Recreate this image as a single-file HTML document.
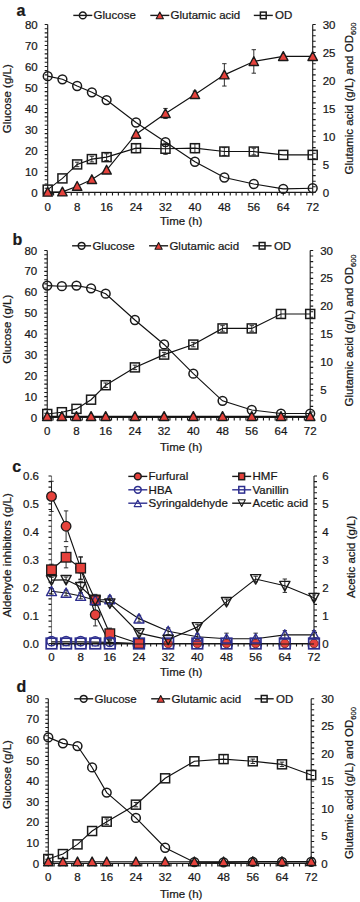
<!DOCTYPE html><html><head><meta charset="utf-8"><style>html,body{margin:0;padding:0;background:#fff;width:360px;height:902px;overflow:hidden}svg{display:block}text{font-family:"Liberation Sans",sans-serif;stroke:#111;stroke-width:0.22px}</style></head><body>
<svg width="360" height="902" viewBox="0 0 360 902" fill="#1a1a1a">
<rect width="360" height="902" fill="#fff"/>
<text x="16.6" y="15.9" text-anchor="start" font-size="16" font-weight="bold">a</text>
<path d="M47.7 24.5V192.4" stroke="#1a1a1a" stroke-width="1.1"/>
<g stroke="#1a1a1a" stroke-width="1.1" fill="none">
<path d="M312.7 24.5V192.4"/>
<path d="M47.7 192.4H312.7"/>
<path d="M44.7 192.4H47.7M44.7 188.2H47.7M44.7 184H47.7M44.7 179.81H47.7M44.7 175.61H47.7M44.7 171.41H47.7M44.7 167.22H47.7M44.7 163.02H47.7M44.7 158.82H47.7M44.7 154.62H47.7M44.7 150.43H47.7M44.7 146.23H47.7M44.7 142.03H47.7M44.7 137.83H47.7M44.7 133.63H47.7M44.7 129.44H47.7M44.7 125.24H47.7M44.7 121.04H47.7M44.7 116.84H47.7M44.7 112.65H47.7M44.7 108.45H47.7M44.7 104.25H47.7M44.7 100.06H47.7M44.7 95.86H47.7M44.7 91.66H47.7M44.7 87.46H47.7M44.7 83.26H47.7M44.7 79.07H47.7M44.7 74.87H47.7M44.7 70.67H47.7M44.7 66.48H47.7M44.7 62.28H47.7M44.7 58.08H47.7M44.7 53.88H47.7M44.7 49.69H47.7M44.7 45.49H47.7M44.7 41.29H47.7M44.7 37.09H47.7M44.7 32.9H47.7M44.7 28.7H47.7M44.7 24.5H47.7M312.7 192.4H315.7M312.7 186.8H315.7M312.7 181.21H315.7M312.7 175.61H315.7M312.7 170.01H315.7M312.7 164.42H315.7M312.7 158.82H315.7M312.7 153.22H315.7M312.7 147.63H315.7M312.7 142.03H315.7M312.7 136.43H315.7M312.7 130.84H315.7M312.7 125.24H315.7M312.7 119.64H315.7M312.7 114.05H315.7M312.7 108.45H315.7M312.7 102.85H315.7M312.7 97.26H315.7M312.7 91.66H315.7M312.7 86.06H315.7M312.7 80.47H315.7M312.7 74.87H315.7M312.7 69.27H315.7M312.7 63.68H315.7M312.7 58.08H315.7M312.7 52.48H315.7M312.7 46.89H315.7M312.7 41.29H315.7M312.7 35.69H315.7M312.7 30.1H315.7M312.7 24.5H315.7M47.7 192.4V195.4M53.59 192.4V195.4M59.48 192.4V195.4M65.37 192.4V195.4M71.26 192.4V195.4M77.14 192.4V195.4M83.03 192.4V195.4M88.92 192.4V195.4M94.81 192.4V195.4M100.7 192.4V195.4M106.59 192.4V195.4M112.48 192.4V195.4M118.37 192.4V195.4M124.26 192.4V195.4M130.14 192.4V195.4M136.03 192.4V195.4M141.92 192.4V195.4M147.81 192.4V195.4M153.7 192.4V195.4M159.59 192.4V195.4M165.48 192.4V195.4M171.37 192.4V195.4M177.26 192.4V195.4M183.14 192.4V195.4M189.03 192.4V195.4M194.92 192.4V195.4M200.81 192.4V195.4M206.7 192.4V195.4M212.59 192.4V195.4M218.48 192.4V195.4M224.37 192.4V195.4M230.26 192.4V195.4M236.14 192.4V195.4M242.03 192.4V195.4M247.92 192.4V195.4M253.81 192.4V195.4M259.7 192.4V195.4M265.59 192.4V195.4M271.48 192.4V195.4M277.37 192.4V195.4M283.26 192.4V195.4M289.14 192.4V195.4M295.03 192.4V195.4M300.92 192.4V195.4M306.81 192.4V195.4M312.7 192.4V195.4"/>
</g>
<g fill="#1a1a1a">
<text x="37.7" y="196.52" text-anchor="end" font-size="11.5" font-weight="normal">0</text>
<text x="37.7" y="175.53" text-anchor="end" font-size="11.5" font-weight="normal">10</text>
<text x="37.7" y="154.54" text-anchor="end" font-size="11.5" font-weight="normal">20</text>
<text x="37.7" y="133.55" text-anchor="end" font-size="11.5" font-weight="normal">30</text>
<text x="37.7" y="112.57" text-anchor="end" font-size="11.5" font-weight="normal">40</text>
<text x="37.7" y="91.58" text-anchor="end" font-size="11.5" font-weight="normal">50</text>
<text x="37.7" y="70.59" text-anchor="end" font-size="11.5" font-weight="normal">60</text>
<text x="37.7" y="49.6" text-anchor="end" font-size="11.5" font-weight="normal">70</text>
<text x="37.7" y="28.62" text-anchor="end" font-size="11.5" font-weight="normal">80</text>
<text x="322.7" y="196.52" text-anchor="start" font-size="11.5" font-weight="normal">0</text>
<text x="322.7" y="168.53" text-anchor="start" font-size="11.5" font-weight="normal">5</text>
<text x="322.7" y="140.55" text-anchor="start" font-size="11.5" font-weight="normal">10</text>
<text x="322.7" y="112.57" text-anchor="start" font-size="11.5" font-weight="normal">15</text>
<text x="322.7" y="84.58" text-anchor="start" font-size="11.5" font-weight="normal">20</text>
<text x="322.7" y="56.6" text-anchor="start" font-size="11.5" font-weight="normal">25</text>
<text x="322.7" y="28.62" text-anchor="start" font-size="11.5" font-weight="normal">30</text>
<text x="47.7" y="210.52" text-anchor="middle" font-size="11.5" font-weight="normal">0</text>
<text x="77.14" y="210.52" text-anchor="middle" font-size="11.5" font-weight="normal">8</text>
<text x="106.59" y="210.52" text-anchor="middle" font-size="11.5" font-weight="normal">16</text>
<text x="136.03" y="210.52" text-anchor="middle" font-size="11.5" font-weight="normal">24</text>
<text x="165.48" y="210.52" text-anchor="middle" font-size="11.5" font-weight="normal">32</text>
<text x="194.92" y="210.52" text-anchor="middle" font-size="11.5" font-weight="normal">40</text>
<text x="224.37" y="210.52" text-anchor="middle" font-size="11.5" font-weight="normal">48</text>
<text x="253.81" y="210.52" text-anchor="middle" font-size="11.5" font-weight="normal">56</text>
<text x="283.26" y="210.52" text-anchor="middle" font-size="11.5" font-weight="normal">64</text>
<text x="312.7" y="210.52" text-anchor="middle" font-size="11.5" font-weight="normal">72</text>
</g>
<path d="M73.3 15.4H92.3" stroke="#1a1a1a" stroke-width="1.4"/>
<circle cx="82.8" cy="15.4" r="3.4" fill="none" stroke="#1a1a1a" stroke-width="1.5"/>
<text x="93.6" y="19.24" text-anchor="start" font-size="11.5" font-weight="normal">Glucose</text>
<path d="M150.3 15.4H169.3" stroke="#1a1a1a" stroke-width="1.4"/>
<polygon points="159.8,12.1 163.4,18.8 156.2,18.8" fill="#e6423c" stroke="#1a1a1a" stroke-width="1.1" stroke-linejoin="round"/>
<text x="170.6" y="19.24" text-anchor="start" font-size="11.5" font-weight="normal">Glutamic acid</text>
<path d="M253.8 15.4H272.8" stroke="#1a1a1a" stroke-width="1.4"/>
<rect x="260.4" y="12.1" width="5.8" height="6.6" fill="none" stroke="#1a1a1a" stroke-width="1.5"/>
<text x="275.1" y="19.24" text-anchor="start" font-size="11.5" font-weight="normal">OD</text>
<text transform="translate(11.2 98.8) rotate(-90)" text-anchor="middle" font-size="11.5">Glucose (g/L)</text>
<text transform="translate(353.3 98.4) rotate(-90)" text-anchor="middle" font-size="11.5">Glutamic acid (g/L) and OD<tspan font-size="7.6" dy="2.6">600</tspan></text>
<text x="181.2" y="224.9" text-anchor="middle" font-size="11.5" font-weight="normal">Time (h)</text>
<polyline points="47.7,76.13 62.42,79.28 77.14,85.99 91.87,92.29 106.59,100.06 136.03,122.51 165.48,142.03 194.92,161.76 224.37,177.5 253.81,184 283.26,188.83 312.7,188.2" fill="none" stroke="#111" stroke-width="1.15"/>
<polyline points="47.7,189.6 62.42,178.41 77.14,164.42 91.87,159.1 106.59,157.14 136.03,148.19 165.48,148.75 194.92,148.19 224.37,151.54 253.81,151.54 283.26,154.9 312.7,154.9" fill="none" stroke="#111" stroke-width="1.15"/>
<polyline points="47.7,192.12 62.42,191.84 77.14,186.24 91.87,179.53 106.59,170.01 136.03,134.19 165.48,113.49 194.92,94.46 224.37,74.87 253.81,61.44 283.26,56.4 312.7,56.4" fill="none" stroke="#111" stroke-width="1.15"/>
<path d="M77.14 162.18V166.66 M74.94 162.18H79.34 M74.94 166.66H79.34" stroke="#1a1a1a" stroke-width="0.9" fill="none"/>
<path d="M91.87 156.3V161.9 M89.67 156.3H94.07 M89.67 161.9H94.07" stroke="#1a1a1a" stroke-width="0.9" fill="none"/>
<path d="M106.59 153.78V160.5 M104.39 153.78H108.79 M104.39 160.5H108.79" stroke="#1a1a1a" stroke-width="0.9" fill="none"/>
<path d="M136.03 143.71V152.66 M133.83 143.71H138.23 M133.83 152.66H138.23" stroke="#1a1a1a" stroke-width="0.9" fill="none"/>
<path d="M165.48 143.15V154.34 M163.28 143.15H167.68 M163.28 154.34H167.68" stroke="#1a1a1a" stroke-width="0.9" fill="none"/>
<path d="M165.48 108.45V118.52 M163.28 108.45H167.68 M163.28 118.52H167.68" stroke="#1a1a1a" stroke-width="0.9" fill="none"/>
<path d="M194.92 143.71V152.66 M192.72 143.71H197.12 M192.72 152.66H197.12" stroke="#1a1a1a" stroke-width="0.9" fill="none"/>
<path d="M194.92 91.1V97.82 M192.72 91.1H197.12 M192.72 97.82H197.12" stroke="#1a1a1a" stroke-width="0.9" fill="none"/>
<path d="M224.37 147.63V155.46 M222.17 147.63H226.57 M222.17 155.46H226.57" stroke="#1a1a1a" stroke-width="0.9" fill="none"/>
<path d="M224.37 63.68V86.06 M222.17 63.68H226.57 M222.17 86.06H226.57" stroke="#1a1a1a" stroke-width="0.9" fill="none"/>
<path d="M253.81 148.19V154.9 M251.61 148.19H256.01 M251.61 154.9H256.01" stroke="#1a1a1a" stroke-width="0.9" fill="none"/>
<path d="M253.81 49.69V73.19 M251.61 49.69H256.01 M251.61 73.19H256.01" stroke="#1a1a1a" stroke-width="0.9" fill="none"/>
<circle cx="47.7" cy="76.13" r="4.4" fill="none" stroke="#1a1a1a" stroke-width="1.5"/>
<circle cx="62.42" cy="79.28" r="4.4" fill="none" stroke="#1a1a1a" stroke-width="1.5"/>
<circle cx="77.14" cy="85.99" r="4.4" fill="none" stroke="#1a1a1a" stroke-width="1.5"/>
<circle cx="91.87" cy="92.29" r="4.4" fill="none" stroke="#1a1a1a" stroke-width="1.5"/>
<circle cx="106.59" cy="100.06" r="4.4" fill="none" stroke="#1a1a1a" stroke-width="1.5"/>
<circle cx="136.03" cy="122.51" r="4.4" fill="none" stroke="#1a1a1a" stroke-width="1.5"/>
<circle cx="165.48" cy="142.03" r="4.4" fill="none" stroke="#1a1a1a" stroke-width="1.5"/>
<circle cx="194.92" cy="161.76" r="4.4" fill="none" stroke="#1a1a1a" stroke-width="1.5"/>
<circle cx="224.37" cy="177.5" r="4.4" fill="none" stroke="#1a1a1a" stroke-width="1.5"/>
<circle cx="253.81" cy="184" r="4.4" fill="none" stroke="#1a1a1a" stroke-width="1.5"/>
<circle cx="283.26" cy="188.83" r="4.4" fill="none" stroke="#1a1a1a" stroke-width="1.5"/>
<circle cx="312.7" cy="188.2" r="4.4" fill="none" stroke="#1a1a1a" stroke-width="1.5"/>
<rect x="43.2" y="185.1" width="9" height="9" fill="none" stroke="#1a1a1a" stroke-width="1.5"/>
<rect x="57.92" y="173.91" width="9" height="9" fill="none" stroke="#1a1a1a" stroke-width="1.5"/>
<rect x="72.64" y="159.92" width="9" height="9" fill="none" stroke="#1a1a1a" stroke-width="1.5"/>
<rect x="87.37" y="154.6" width="9" height="9" fill="none" stroke="#1a1a1a" stroke-width="1.5"/>
<rect x="102.09" y="152.64" width="9" height="9" fill="none" stroke="#1a1a1a" stroke-width="1.5"/>
<rect x="131.53" y="143.69" width="9" height="9" fill="none" stroke="#1a1a1a" stroke-width="1.5"/>
<rect x="160.98" y="144.25" width="9" height="9" fill="none" stroke="#1a1a1a" stroke-width="1.5"/>
<rect x="190.42" y="143.69" width="9" height="9" fill="none" stroke="#1a1a1a" stroke-width="1.5"/>
<rect x="219.87" y="147.04" width="9" height="9" fill="none" stroke="#1a1a1a" stroke-width="1.5"/>
<rect x="249.31" y="147.04" width="9" height="9" fill="none" stroke="#1a1a1a" stroke-width="1.5"/>
<rect x="278.76" y="150.4" width="9" height="9" fill="none" stroke="#1a1a1a" stroke-width="1.5"/>
<rect x="308.2" y="150.4" width="9" height="9" fill="none" stroke="#1a1a1a" stroke-width="1.5"/>
<polygon points="47.7,187.42 52.4,196.16 43,196.16" fill="#e6423c" stroke="#1a1a1a" stroke-width="1.4" stroke-linejoin="round"/>
<polygon points="62.42,187.14 67.12,195.88 57.72,195.88" fill="#e6423c" stroke="#1a1a1a" stroke-width="1.4" stroke-linejoin="round"/>
<polygon points="77.14,181.54 81.84,190.29 72.44,190.29" fill="#e6423c" stroke="#1a1a1a" stroke-width="1.4" stroke-linejoin="round"/>
<polygon points="91.87,174.83 96.57,183.57 87.17,183.57" fill="#e6423c" stroke="#1a1a1a" stroke-width="1.4" stroke-linejoin="round"/>
<polygon points="106.59,165.31 111.29,174.06 101.89,174.06" fill="#e6423c" stroke="#1a1a1a" stroke-width="1.4" stroke-linejoin="round"/>
<polygon points="136.03,129.49 140.73,138.24 131.33,138.24" fill="#e6423c" stroke="#1a1a1a" stroke-width="1.4" stroke-linejoin="round"/>
<polygon points="165.48,108.79 170.18,117.53 160.78,117.53" fill="#e6423c" stroke="#1a1a1a" stroke-width="1.4" stroke-linejoin="round"/>
<polygon points="194.92,89.76 199.62,98.5 190.22,98.5" fill="#e6423c" stroke="#1a1a1a" stroke-width="1.4" stroke-linejoin="round"/>
<polygon points="224.37,70.17 229.07,78.91 219.67,78.91" fill="#e6423c" stroke="#1a1a1a" stroke-width="1.4" stroke-linejoin="round"/>
<polygon points="253.81,56.74 258.51,65.48 249.11,65.48" fill="#e6423c" stroke="#1a1a1a" stroke-width="1.4" stroke-linejoin="round"/>
<polygon points="283.26,51.7 287.96,60.44 278.56,60.44" fill="#e6423c" stroke="#1a1a1a" stroke-width="1.4" stroke-linejoin="round"/>
<polygon points="312.7,51.7 317.4,60.44 308,60.44" fill="#e6423c" stroke="#1a1a1a" stroke-width="1.4" stroke-linejoin="round"/>
<text x="12.6" y="245" text-anchor="start" font-size="16" font-weight="bold">b</text>
<path d="M47.25 250.5V417.5" stroke="#1a1a1a" stroke-width="1.1"/>
<g stroke="#1a1a1a" stroke-width="1.1" fill="none">
<path d="M310.2 250.5V417.5"/>
<path d="M47.25 417.5H310.2"/>
<path d="M44.25 417.5H47.25M44.25 413.32H47.25M44.25 409.15H47.25M44.25 404.98H47.25M44.25 400.8H47.25M44.25 396.62H47.25M44.25 392.45H47.25M44.25 388.27H47.25M44.25 384.1H47.25M44.25 379.93H47.25M44.25 375.75H47.25M44.25 371.57H47.25M44.25 367.4H47.25M44.25 363.23H47.25M44.25 359.05H47.25M44.25 354.88H47.25M44.25 350.7H47.25M44.25 346.52H47.25M44.25 342.35H47.25M44.25 338.18H47.25M44.25 334H47.25M44.25 329.82H47.25M44.25 325.65H47.25M44.25 321.48H47.25M44.25 317.3H47.25M44.25 313.12H47.25M44.25 308.95H47.25M44.25 304.77H47.25M44.25 300.6H47.25M44.25 296.43H47.25M44.25 292.25H47.25M44.25 288.07H47.25M44.25 283.9H47.25M44.25 279.73H47.25M44.25 275.55H47.25M44.25 271.38H47.25M44.25 267.2H47.25M44.25 263.02H47.25M44.25 258.85H47.25M44.25 254.68H47.25M44.25 250.5H47.25M310.2 417.5H313.2M310.2 411.93H313.2M310.2 406.37H313.2M310.2 400.8H313.2M310.2 395.23H313.2M310.2 389.67H313.2M310.2 384.1H313.2M310.2 378.53H313.2M310.2 372.97H313.2M310.2 367.4H313.2M310.2 361.83H313.2M310.2 356.27H313.2M310.2 350.7H313.2M310.2 345.13H313.2M310.2 339.57H313.2M310.2 334H313.2M310.2 328.43H313.2M310.2 322.87H313.2M310.2 317.3H313.2M310.2 311.73H313.2M310.2 306.17H313.2M310.2 300.6H313.2M310.2 295.03H313.2M310.2 289.47H313.2M310.2 283.9H313.2M310.2 278.33H313.2M310.2 272.77H313.2M310.2 267.2H313.2M310.2 261.63H313.2M310.2 256.07H313.2M310.2 250.5H313.2M47.25 417.5V420.5M53.09 417.5V420.5M58.94 417.5V420.5M64.78 417.5V420.5M70.62 417.5V420.5M76.47 417.5V420.5M82.31 417.5V420.5M88.15 417.5V420.5M94 417.5V420.5M99.84 417.5V420.5M105.68 417.5V420.5M111.53 417.5V420.5M117.37 417.5V420.5M123.21 417.5V420.5M129.06 417.5V420.5M134.9 417.5V420.5M140.74 417.5V420.5M146.59 417.5V420.5M152.43 417.5V420.5M158.27 417.5V420.5M164.12 417.5V420.5M169.96 417.5V420.5M175.8 417.5V420.5M181.65 417.5V420.5M187.49 417.5V420.5M193.33 417.5V420.5M199.18 417.5V420.5M205.02 417.5V420.5M210.86 417.5V420.5M216.71 417.5V420.5M222.55 417.5V420.5M228.39 417.5V420.5M234.24 417.5V420.5M240.08 417.5V420.5M245.92 417.5V420.5M251.77 417.5V420.5M257.61 417.5V420.5M263.45 417.5V420.5M269.3 417.5V420.5M275.14 417.5V420.5M280.98 417.5V420.5M286.83 417.5V420.5M292.67 417.5V420.5M298.51 417.5V420.5M304.36 417.5V420.5M310.2 417.5V420.5"/>
</g>
<g fill="#1a1a1a">
<text x="37.25" y="421.62" text-anchor="end" font-size="11.5" font-weight="normal">0</text>
<text x="37.25" y="400.74" text-anchor="end" font-size="11.5" font-weight="normal">10</text>
<text x="37.25" y="379.87" text-anchor="end" font-size="11.5" font-weight="normal">20</text>
<text x="37.25" y="358.99" text-anchor="end" font-size="11.5" font-weight="normal">30</text>
<text x="37.25" y="338.12" text-anchor="end" font-size="11.5" font-weight="normal">40</text>
<text x="37.25" y="317.24" text-anchor="end" font-size="11.5" font-weight="normal">50</text>
<text x="37.25" y="296.37" text-anchor="end" font-size="11.5" font-weight="normal">60</text>
<text x="37.25" y="275.49" text-anchor="end" font-size="11.5" font-weight="normal">70</text>
<text x="37.25" y="254.62" text-anchor="end" font-size="11.5" font-weight="normal">80</text>
<text x="320.2" y="421.62" text-anchor="start" font-size="11.5" font-weight="normal">0</text>
<text x="320.2" y="393.78" text-anchor="start" font-size="11.5" font-weight="normal">5</text>
<text x="320.2" y="365.95" text-anchor="start" font-size="11.5" font-weight="normal">10</text>
<text x="320.2" y="338.12" text-anchor="start" font-size="11.5" font-weight="normal">15</text>
<text x="320.2" y="310.28" text-anchor="start" font-size="11.5" font-weight="normal">20</text>
<text x="320.2" y="282.45" text-anchor="start" font-size="11.5" font-weight="normal">25</text>
<text x="320.2" y="254.62" text-anchor="start" font-size="11.5" font-weight="normal">30</text>
<text x="47.25" y="435.12" text-anchor="middle" font-size="11.5" font-weight="normal">0</text>
<text x="76.47" y="435.12" text-anchor="middle" font-size="11.5" font-weight="normal">8</text>
<text x="105.68" y="435.12" text-anchor="middle" font-size="11.5" font-weight="normal">16</text>
<text x="134.9" y="435.12" text-anchor="middle" font-size="11.5" font-weight="normal">24</text>
<text x="164.12" y="435.12" text-anchor="middle" font-size="11.5" font-weight="normal">32</text>
<text x="193.33" y="435.12" text-anchor="middle" font-size="11.5" font-weight="normal">40</text>
<text x="222.55" y="435.12" text-anchor="middle" font-size="11.5" font-weight="normal">48</text>
<text x="251.77" y="435.12" text-anchor="middle" font-size="11.5" font-weight="normal">56</text>
<text x="280.98" y="435.12" text-anchor="middle" font-size="11.5" font-weight="normal">64</text>
<text x="310.2" y="435.12" text-anchor="middle" font-size="11.5" font-weight="normal">72</text>
</g>
<path d="M72.1 245.8H91.1" stroke="#1a1a1a" stroke-width="1.4"/>
<circle cx="81.6" cy="245.8" r="3.4" fill="none" stroke="#1a1a1a" stroke-width="1.5"/>
<text x="92.4" y="249.64" text-anchor="start" font-size="11.5" font-weight="normal">Glucose</text>
<path d="M149.1 245.8H168.1" stroke="#1a1a1a" stroke-width="1.4"/>
<polygon points="158.6,242.5 162.2,249.2 155,249.2" fill="#e6423c" stroke="#1a1a1a" stroke-width="1.1" stroke-linejoin="round"/>
<text x="169.4" y="249.64" text-anchor="start" font-size="11.5" font-weight="normal">Glutamic acid</text>
<path d="M252.6 245.8H271.6" stroke="#1a1a1a" stroke-width="1.4"/>
<rect x="259.2" y="242.5" width="5.8" height="6.6" fill="none" stroke="#1a1a1a" stroke-width="1.5"/>
<text x="273.9" y="249.64" text-anchor="start" font-size="11.5" font-weight="normal">OD</text>
<text transform="translate(11.2 329.3) rotate(-90)" text-anchor="middle" font-size="11.5">Glucose (g/L)</text>
<text transform="translate(353.3 330.4) rotate(-90)" text-anchor="middle" font-size="11.5">Glutamic acid (g/L) and OD<tspan font-size="7.6" dy="2.6">600</tspan></text>
<text x="181.2" y="451.2" text-anchor="middle" font-size="11.5" font-weight="normal">Time (h)</text>
<polyline points="47.25,285.57 61.86,286.2 76.47,285.57 91.07,288.28 105.68,293.71 134.9,320.01 164.12,344.44 193.33,373.66 222.55,400.8 251.77,409.99 280.98,413.53 310.2,413.53" fill="none" stroke="#111" stroke-width="1.15"/>
<polyline points="47.25,413.99 61.86,412.21 76.47,408.87 91.07,399.69 105.68,385.21 134.9,367.4 164.12,354.6 193.33,344.58 222.55,328.43 251.77,328.43 280.98,313.96 310.2,313.96" fill="none" stroke="#111" stroke-width="1.15"/>
<polyline points="47.25,416.39 61.86,416.39 76.47,416.39 91.07,416.39 105.68,416.39 134.9,416.39 164.12,416.39 193.33,416.39 222.55,416.39 251.77,416.39 280.98,416.39 310.2,416.39" fill="none" stroke="#111" stroke-width="1.15"/>
<path d="M105.68 382.99V387.44 M103.48 382.99H107.88 M103.48 387.44H107.88" stroke="#1a1a1a" stroke-width="0.9" fill="none"/>
<path d="M134.9 365.17V369.63 M132.7 365.17H137.1 M132.7 369.63H137.1" stroke="#1a1a1a" stroke-width="0.9" fill="none"/>
<path d="M164.12 352.37V356.82 M161.92 352.37H166.32 M161.92 356.82H166.32" stroke="#1a1a1a" stroke-width="0.9" fill="none"/>
<path d="M193.33 342.35V346.8 M191.13 342.35H195.53 M191.13 346.8H195.53" stroke="#1a1a1a" stroke-width="0.9" fill="none"/>
<path d="M222.55 325.65V331.22 M220.35 325.65H224.75 M220.35 331.22H224.75" stroke="#1a1a1a" stroke-width="0.9" fill="none"/>
<path d="M251.77 325.65V331.22 M249.57 325.65H253.97 M249.57 331.22H253.97" stroke="#1a1a1a" stroke-width="0.9" fill="none"/>
<path d="M280.98 309.51V318.41 M278.78 309.51H283.18 M278.78 318.41H283.18" stroke="#1a1a1a" stroke-width="0.9" fill="none"/>
<path d="M310.2 309.51V318.41 M308 309.51H312.4 M308 318.41H312.4" stroke="#1a1a1a" stroke-width="0.9" fill="none"/>
<circle cx="47.25" cy="285.57" r="4.4" fill="none" stroke="#1a1a1a" stroke-width="1.5"/>
<circle cx="61.86" cy="286.2" r="4.4" fill="none" stroke="#1a1a1a" stroke-width="1.5"/>
<circle cx="76.47" cy="285.57" r="4.4" fill="none" stroke="#1a1a1a" stroke-width="1.5"/>
<circle cx="91.07" cy="288.28" r="4.4" fill="none" stroke="#1a1a1a" stroke-width="1.5"/>
<circle cx="105.68" cy="293.71" r="4.4" fill="none" stroke="#1a1a1a" stroke-width="1.5"/>
<circle cx="134.9" cy="320.01" r="4.4" fill="none" stroke="#1a1a1a" stroke-width="1.5"/>
<circle cx="164.12" cy="344.44" r="4.4" fill="none" stroke="#1a1a1a" stroke-width="1.5"/>
<circle cx="193.33" cy="373.66" r="4.4" fill="none" stroke="#1a1a1a" stroke-width="1.5"/>
<circle cx="222.55" cy="400.8" r="4.4" fill="none" stroke="#1a1a1a" stroke-width="1.5"/>
<circle cx="251.77" cy="409.99" r="4.4" fill="none" stroke="#1a1a1a" stroke-width="1.5"/>
<circle cx="280.98" cy="413.53" r="4.4" fill="none" stroke="#1a1a1a" stroke-width="1.5"/>
<circle cx="310.2" cy="413.53" r="4.4" fill="none" stroke="#1a1a1a" stroke-width="1.5"/>
<rect x="42.75" y="409.49" width="9" height="9" fill="none" stroke="#1a1a1a" stroke-width="1.5"/>
<rect x="57.36" y="407.71" width="9" height="9" fill="none" stroke="#1a1a1a" stroke-width="1.5"/>
<rect x="71.97" y="404.37" width="9" height="9" fill="none" stroke="#1a1a1a" stroke-width="1.5"/>
<rect x="86.57" y="395.19" width="9" height="9" fill="none" stroke="#1a1a1a" stroke-width="1.5"/>
<rect x="101.18" y="380.71" width="9" height="9" fill="none" stroke="#1a1a1a" stroke-width="1.5"/>
<rect x="130.4" y="362.9" width="9" height="9" fill="none" stroke="#1a1a1a" stroke-width="1.5"/>
<rect x="159.62" y="350.1" width="9" height="9" fill="none" stroke="#1a1a1a" stroke-width="1.5"/>
<rect x="188.83" y="340.08" width="9" height="9" fill="none" stroke="#1a1a1a" stroke-width="1.5"/>
<rect x="218.05" y="323.93" width="9" height="9" fill="none" stroke="#1a1a1a" stroke-width="1.5"/>
<rect x="247.27" y="323.93" width="9" height="9" fill="none" stroke="#1a1a1a" stroke-width="1.5"/>
<rect x="276.48" y="309.46" width="9" height="9" fill="none" stroke="#1a1a1a" stroke-width="1.5"/>
<rect x="305.7" y="309.46" width="9" height="9" fill="none" stroke="#1a1a1a" stroke-width="1.5"/>
<polygon points="47.25,411.69 51.95,420.43 42.55,420.43" fill="#e6423c" stroke="#1a1a1a" stroke-width="1.4" stroke-linejoin="round"/>
<polygon points="61.86,411.69 66.56,420.43 57.16,420.43" fill="#e6423c" stroke="#1a1a1a" stroke-width="1.4" stroke-linejoin="round"/>
<polygon points="76.47,411.69 81.17,420.43 71.77,420.43" fill="#e6423c" stroke="#1a1a1a" stroke-width="1.4" stroke-linejoin="round"/>
<polygon points="91.07,411.69 95.77,420.43 86.37,420.43" fill="#e6423c" stroke="#1a1a1a" stroke-width="1.4" stroke-linejoin="round"/>
<polygon points="105.68,411.69 110.38,420.43 100.98,420.43" fill="#e6423c" stroke="#1a1a1a" stroke-width="1.4" stroke-linejoin="round"/>
<polygon points="134.9,411.69 139.6,420.43 130.2,420.43" fill="#e6423c" stroke="#1a1a1a" stroke-width="1.4" stroke-linejoin="round"/>
<polygon points="164.12,411.69 168.82,420.43 159.42,420.43" fill="#e6423c" stroke="#1a1a1a" stroke-width="1.4" stroke-linejoin="round"/>
<polygon points="193.33,411.69 198.03,420.43 188.63,420.43" fill="#e6423c" stroke="#1a1a1a" stroke-width="1.4" stroke-linejoin="round"/>
<polygon points="222.55,411.69 227.25,420.43 217.85,420.43" fill="#e6423c" stroke="#1a1a1a" stroke-width="1.4" stroke-linejoin="round"/>
<polygon points="251.77,411.69 256.47,420.43 247.07,420.43" fill="#e6423c" stroke="#1a1a1a" stroke-width="1.4" stroke-linejoin="round"/>
<polygon points="280.98,411.69 285.68,420.43 276.28,420.43" fill="#e6423c" stroke="#1a1a1a" stroke-width="1.4" stroke-linejoin="round"/>
<polygon points="310.2,411.69 314.9,420.43 305.5,420.43" fill="#e6423c" stroke="#1a1a1a" stroke-width="1.4" stroke-linejoin="round"/>
<text x="12.2" y="471.5" text-anchor="start" font-size="16" font-weight="bold">c</text>
<path d="M51.5 476V643.5" stroke="#808080" stroke-width="1.1"/>
<g stroke="#1a1a1a" stroke-width="1.1" fill="none">
<path d="M314 476V643.5"/>
<path d="M51.5 643.5H314"/>
<path d="M48.5 643.5H51.5M48.5 637.92H51.5M48.5 632.33H51.5M48.5 626.75H51.5M48.5 621.17H51.5M48.5 615.58H51.5M48.5 610H51.5M48.5 604.42H51.5M48.5 598.83H51.5M48.5 593.25H51.5M48.5 587.67H51.5M48.5 582.08H51.5M48.5 576.5H51.5M48.5 570.92H51.5M48.5 565.33H51.5M48.5 559.75H51.5M48.5 554.17H51.5M48.5 548.58H51.5M48.5 543H51.5M48.5 537.42H51.5M48.5 531.83H51.5M48.5 526.25H51.5M48.5 520.67H51.5M48.5 515.08H51.5M48.5 509.5H51.5M48.5 503.92H51.5M48.5 498.33H51.5M48.5 492.75H51.5M48.5 487.17H51.5M48.5 481.58H51.5M48.5 476H51.5M314 643.5H317M314 637.92H317M314 632.33H317M314 626.75H317M314 621.17H317M314 615.58H317M314 610H317M314 604.42H317M314 598.83H317M314 593.25H317M314 587.67H317M314 582.08H317M314 576.5H317M314 570.92H317M314 565.33H317M314 559.75H317M314 554.17H317M314 548.58H317M314 543H317M314 537.42H317M314 531.83H317M314 526.25H317M314 520.67H317M314 515.08H317M314 509.5H317M314 503.92H317M314 498.33H317M314 492.75H317M314 487.17H317M314 481.58H317M314 476H317M51.5 643.5V646.5M57.33 643.5V646.5M63.17 643.5V646.5M69 643.5V646.5M74.83 643.5V646.5M80.67 643.5V646.5M86.5 643.5V646.5M92.33 643.5V646.5M98.17 643.5V646.5M104 643.5V646.5M109.83 643.5V646.5M115.67 643.5V646.5M121.5 643.5V646.5M127.33 643.5V646.5M133.17 643.5V646.5M139 643.5V646.5M144.83 643.5V646.5M150.67 643.5V646.5M156.5 643.5V646.5M162.33 643.5V646.5M168.17 643.5V646.5M174 643.5V646.5M179.83 643.5V646.5M185.67 643.5V646.5M191.5 643.5V646.5M197.33 643.5V646.5M203.17 643.5V646.5M209 643.5V646.5M214.83 643.5V646.5M220.67 643.5V646.5M226.5 643.5V646.5M232.33 643.5V646.5M238.17 643.5V646.5M244 643.5V646.5M249.83 643.5V646.5M255.67 643.5V646.5M261.5 643.5V646.5M267.33 643.5V646.5M273.17 643.5V646.5M279 643.5V646.5M284.83 643.5V646.5M290.67 643.5V646.5M296.5 643.5V646.5M302.33 643.5V646.5M308.17 643.5V646.5M314 643.5V646.5"/>
</g>
<g fill="#1a1a1a">
<text x="39" y="647.62" text-anchor="end" font-size="11.5" font-weight="normal">0.0</text>
<text x="39" y="619.7" text-anchor="end" font-size="11.5" font-weight="normal">0.1</text>
<text x="39" y="591.78" text-anchor="end" font-size="11.5" font-weight="normal">0.2</text>
<text x="39" y="563.87" text-anchor="end" font-size="11.5" font-weight="normal">0.3</text>
<text x="39" y="535.95" text-anchor="end" font-size="11.5" font-weight="normal">0.4</text>
<text x="39" y="508.03" text-anchor="end" font-size="11.5" font-weight="normal">0.5</text>
<text x="39" y="480.12" text-anchor="end" font-size="11.5" font-weight="normal">0.6</text>
<text x="322.2" y="647.62" text-anchor="start" font-size="11.5" font-weight="normal">0</text>
<text x="322.2" y="619.7" text-anchor="start" font-size="11.5" font-weight="normal">1</text>
<text x="322.2" y="591.78" text-anchor="start" font-size="11.5" font-weight="normal">2</text>
<text x="322.2" y="563.87" text-anchor="start" font-size="11.5" font-weight="normal">3</text>
<text x="322.2" y="535.95" text-anchor="start" font-size="11.5" font-weight="normal">4</text>
<text x="322.2" y="508.03" text-anchor="start" font-size="11.5" font-weight="normal">5</text>
<text x="322.2" y="480.12" text-anchor="start" font-size="11.5" font-weight="normal">6</text>
<text x="51.5" y="661.42" text-anchor="middle" font-size="11.5" font-weight="normal">0</text>
<text x="80.67" y="661.42" text-anchor="middle" font-size="11.5" font-weight="normal">8</text>
<text x="109.83" y="661.42" text-anchor="middle" font-size="11.5" font-weight="normal">16</text>
<text x="139" y="661.42" text-anchor="middle" font-size="11.5" font-weight="normal">24</text>
<text x="168.17" y="661.42" text-anchor="middle" font-size="11.5" font-weight="normal">32</text>
<text x="197.33" y="661.42" text-anchor="middle" font-size="11.5" font-weight="normal">40</text>
<text x="226.5" y="661.42" text-anchor="middle" font-size="11.5" font-weight="normal">48</text>
<text x="255.67" y="661.42" text-anchor="middle" font-size="11.5" font-weight="normal">56</text>
<text x="284.83" y="661.42" text-anchor="middle" font-size="11.5" font-weight="normal">64</text>
<text x="314" y="661.42" text-anchor="middle" font-size="11.5" font-weight="normal">72</text>
</g>
<text transform="translate(11 555.3) rotate(-90)" text-anchor="middle" font-size="11.5">Aldehyde inhibitors (g/L)</text>
<text transform="translate(354.5 556.9) rotate(-90)" text-anchor="middle" font-size="11.5">Acetic acid (g/L)</text>
<text x="181.2" y="675.8" text-anchor="middle" font-size="11.5" font-weight="normal">Time (h)</text>
<polyline points="51.5,496.38 66.08,526.25 80.67,568.12 95.25,614.75 109.83,643.5 139,643.5 168.17,643.5 197.33,643.5 226.5,643.5 255.67,643.5 284.83,643.5 314,643.5" fill="none" stroke="#111" stroke-width="1.15"/>
<polyline points="51.5,569.8 66.08,557.24 80.67,568.12 95.25,599.95 109.83,633.73 139,643.5 168.17,643.5 197.33,643.5 226.5,643.5 255.67,643.5 284.83,643.5 314,643.5" fill="none" stroke="#111" stroke-width="1.15"/>
<polyline points="51.5,641.83 66.08,641.83 80.67,641.83 95.25,642.1 109.83,642.38 139,643.5 168.17,643.5 197.33,643.5 226.5,643.5 255.67,643.5 284.83,643.5 314,643.5" fill="none" stroke="#111" stroke-width="1.15"/>
<polyline points="51.5,643.5 66.08,643.5 80.67,643.5 95.25,643.5 109.83,643.5 139,643.5 168.17,643.5 197.33,643.5 226.5,643.5 255.67,643.5 284.83,643.5 314,643.5" fill="none" stroke="#111" stroke-width="1.15"/>
<polyline points="51.5,591.3 66.08,592.97 80.67,596.04 95.25,600.23 109.83,599.39 139,618.65 168.17,631.22 197.33,636.8 226.5,638.75 255.67,638.75 284.83,634.85 314,634.85" fill="none" stroke="#111" stroke-width="1.15"/>
<polyline points="51.5,580.13 66.08,579.85 80.67,586.83 95.25,600.23 109.83,603.3 139,633.17 168.17,639.59 197.33,627.03 226.5,601.9 255.67,579.01 284.83,585.71 314,597.72" fill="none" stroke="#111" stroke-width="1.15"/>
<path d="M51.5 481.3V511.45 M49.3 481.3H53.7 M49.3 511.45H53.7" stroke="#1a1a1a" stroke-width="0.9" fill="none"/>
<path d="M51.5 564.22V575.38 M49.3 564.22H53.7 M49.3 575.38H53.7" stroke="#1a1a1a" stroke-width="0.9" fill="none"/>
<path d="M51.5 588.5V594.09 M49.3 588.5H53.7 M49.3 594.09H53.7" stroke="#1a1a1a" stroke-width="0.9" fill="none"/>
<path d="M51.5 577.34V582.92 M49.3 577.34H53.7 M49.3 582.92H53.7" stroke="#1a1a1a" stroke-width="0.9" fill="none"/>
<path d="M66.08 510.9V541.6 M63.88 510.9H68.28 M63.88 541.6H68.28" stroke="#1a1a1a" stroke-width="0.9" fill="none"/>
<path d="M66.08 546.63V567.85 M63.88 546.63H68.28 M63.88 567.85H68.28" stroke="#1a1a1a" stroke-width="0.9" fill="none"/>
<path d="M66.08 590.18V595.76 M63.88 590.18H68.28 M63.88 595.76H68.28" stroke="#1a1a1a" stroke-width="0.9" fill="none"/>
<path d="M66.08 577.06V582.64 M63.88 577.06H68.28 M63.88 582.64H68.28" stroke="#1a1a1a" stroke-width="0.9" fill="none"/>
<path d="M80.67 556.96V579.29 M78.47 556.96H82.87 M78.47 579.29H82.87" stroke="#1a1a1a" stroke-width="0.9" fill="none"/>
<path d="M80.67 556.96V579.29 M78.47 556.96H82.87 M78.47 579.29H82.87" stroke="#1a1a1a" stroke-width="0.9" fill="none"/>
<path d="M80.67 593.25V598.83 M78.47 593.25H82.87 M78.47 598.83H82.87" stroke="#1a1a1a" stroke-width="0.9" fill="none"/>
<path d="M80.67 581.25V592.41 M78.47 581.25H82.87 M78.47 592.41H82.87" stroke="#1a1a1a" stroke-width="0.9" fill="none"/>
<path d="M95.25 603.58V625.91 M93.05 603.58H97.45 M93.05 625.91H97.45" stroke="#1a1a1a" stroke-width="0.9" fill="none"/>
<path d="M95.25 594.37V605.53 M93.05 594.37H97.45 M93.05 605.53H97.45" stroke="#1a1a1a" stroke-width="0.9" fill="none"/>
<path d="M95.25 596.88V603.58 M93.05 596.88H97.45 M93.05 603.58H97.45" stroke="#1a1a1a" stroke-width="0.9" fill="none"/>
<path d="M95.25 597.44V603.02 M93.05 597.44H97.45 M93.05 603.02H97.45" stroke="#1a1a1a" stroke-width="0.9" fill="none"/>
<path d="M109.83 640.71V646.29 M107.63 640.71H112.03 M107.63 646.29H112.03" stroke="#1a1a1a" stroke-width="0.9" fill="none"/>
<path d="M109.83 628.15V639.31 M107.63 628.15H112.03 M107.63 639.31H112.03" stroke="#1a1a1a" stroke-width="0.9" fill="none"/>
<path d="M109.83 596.04V602.74 M107.63 596.04H112.03 M107.63 602.74H112.03" stroke="#1a1a1a" stroke-width="0.9" fill="none"/>
<path d="M109.83 600.51V606.09 M107.63 600.51H112.03 M107.63 606.09H112.03" stroke="#1a1a1a" stroke-width="0.9" fill="none"/>
<path d="M139 615.3V622 M136.8 615.3H141.2 M136.8 622H141.2" stroke="#1a1a1a" stroke-width="0.9" fill="none"/>
<path d="M139 630.38V635.96 M136.8 630.38H141.2 M136.8 635.96H141.2" stroke="#1a1a1a" stroke-width="0.9" fill="none"/>
<path d="M168.17 627.87V634.57 M165.97 627.87H170.37 M165.97 634.57H170.37" stroke="#1a1a1a" stroke-width="0.9" fill="none"/>
<path d="M197.33 634.01V639.59 M195.13 634.01H199.53 M195.13 639.59H199.53" stroke="#1a1a1a" stroke-width="0.9" fill="none"/>
<path d="M197.33 624.24V629.82 M195.13 624.24H199.53 M195.13 629.82H199.53" stroke="#1a1a1a" stroke-width="0.9" fill="none"/>
<path d="M226.5 633.17V644.34 M224.3 633.17H228.7 M224.3 644.34H228.7" stroke="#1a1a1a" stroke-width="0.9" fill="none"/>
<path d="M226.5 599.11V604.7 M224.3 599.11H228.7 M224.3 604.7H228.7" stroke="#1a1a1a" stroke-width="0.9" fill="none"/>
<path d="M255.67 633.17V644.34 M253.47 633.17H257.87 M253.47 644.34H257.87" stroke="#1a1a1a" stroke-width="0.9" fill="none"/>
<path d="M255.67 576.22V581.8 M253.47 576.22H257.87 M253.47 581.8H257.87" stroke="#1a1a1a" stroke-width="0.9" fill="none"/>
<path d="M284.83 630.66V639.03 M282.63 630.66H287.03 M282.63 639.03H287.03" stroke="#1a1a1a" stroke-width="0.9" fill="none"/>
<path d="M284.83 579.01V592.41 M282.63 579.01H287.03 M282.63 592.41H287.03" stroke="#1a1a1a" stroke-width="0.9" fill="none"/>
<path d="M314 630.66V639.03 M311.8 630.66H316.2 M311.8 639.03H316.2" stroke="#1a1a1a" stroke-width="0.9" fill="none"/>
<path d="M314 594.93V600.51 M311.8 594.93H316.2 M311.8 600.51H316.2" stroke="#1a1a1a" stroke-width="0.9" fill="none"/>
<circle cx="51.5" cy="496.38" r="4.8" fill="#e6423c" stroke="#1a1a1a" stroke-width="1.3"/>
<circle cx="66.08" cy="526.25" r="4.8" fill="#e6423c" stroke="#1a1a1a" stroke-width="1.3"/>
<circle cx="80.67" cy="568.12" r="4.8" fill="#e6423c" stroke="#1a1a1a" stroke-width="1.3"/>
<circle cx="95.25" cy="614.75" r="4.8" fill="#e6423c" stroke="#1a1a1a" stroke-width="1.3"/>
<circle cx="139" cy="643.5" r="4.3" fill="#e6423c" stroke="#5a1a1a" stroke-width="0.8"/>
<circle cx="168.17" cy="643.5" r="4.3" fill="#e6423c" stroke="#5a1a1a" stroke-width="0.8"/>
<circle cx="197.33" cy="643.5" r="4.3" fill="#e6423c" stroke="#5a1a1a" stroke-width="0.8"/>
<circle cx="226.5" cy="643.5" r="4.3" fill="#e6423c" stroke="#5a1a1a" stroke-width="0.8"/>
<circle cx="255.67" cy="643.5" r="4.3" fill="#e6423c" stroke="#5a1a1a" stroke-width="0.8"/>
<circle cx="284.83" cy="643.5" r="4.3" fill="#e6423c" stroke="#5a1a1a" stroke-width="0.8"/>
<circle cx="314" cy="643.5" r="4.3" fill="#e6423c" stroke="#5a1a1a" stroke-width="0.8"/>
<rect x="46.7" y="565" width="9.6" height="9.6" fill="#e6423c" stroke="#1a1a1a" stroke-width="1.3"/>
<rect x="61.28" y="552.44" width="9.6" height="9.6" fill="#e6423c" stroke="#1a1a1a" stroke-width="1.3"/>
<rect x="75.87" y="563.33" width="9.6" height="9.6" fill="#e6423c" stroke="#1a1a1a" stroke-width="1.3"/>
<rect x="90.45" y="595.15" width="9.6" height="9.6" fill="#e6423c" stroke="#1a1a1a" stroke-width="1.3"/>
<rect x="105.03" y="628.93" width="9.6" height="9.6" fill="#e6423c" stroke="#1a1a1a" stroke-width="1.3"/>
<rect x="134.2" y="638.7" width="9.6" height="9.6" fill="#e6423c" stroke="#1a1a1a" stroke-width="1.3"/>
<circle cx="51.5" cy="641.12" r="4.7" fill="none" stroke="#2e2f8f" stroke-width="1.5"/>
<circle cx="66.08" cy="641.12" r="4.7" fill="none" stroke="#2e2f8f" stroke-width="1.5"/>
<circle cx="80.67" cy="641.12" r="4.7" fill="none" stroke="#2e2f8f" stroke-width="1.5"/>
<circle cx="95.25" cy="641.4" r="4.7" fill="none" stroke="#2e2f8f" stroke-width="1.5"/>
<circle cx="109.83" cy="641.68" r="4.7" fill="none" stroke="#2e2f8f" stroke-width="1.5"/>
<rect x="46.2" y="638.2" width="10.6" height="10.6" fill="none" stroke="#2e2f8f" stroke-width="1.7"/>
<rect x="60.78" y="638.2" width="10.6" height="10.6" fill="none" stroke="#2e2f8f" stroke-width="1.7"/>
<rect x="75.37" y="638.2" width="10.6" height="10.6" fill="none" stroke="#2e2f8f" stroke-width="1.7"/>
<rect x="89.95" y="638.2" width="10.6" height="10.6" fill="none" stroke="#2e2f8f" stroke-width="1.7"/>
<rect x="104.53" y="638.2" width="10.6" height="10.6" fill="none" stroke="#2e2f8f" stroke-width="1.7"/>
<rect x="133.7" y="638.2" width="10.6" height="10.6" fill="none" stroke="#2e2f8f" stroke-width="1.7"/>
<rect x="162.87" y="638.2" width="10.6" height="10.6" fill="none" stroke="#2e2f8f" stroke-width="1.7"/>
<rect x="192.03" y="638.2" width="10.6" height="10.6" fill="none" stroke="#2e2f8f" stroke-width="1.7"/>
<rect x="221.2" y="638.2" width="10.6" height="10.6" fill="none" stroke="#2e2f8f" stroke-width="1.7"/>
<rect x="250.37" y="638.2" width="10.6" height="10.6" fill="none" stroke="#2e2f8f" stroke-width="1.7"/>
<rect x="279.53" y="638.2" width="10.6" height="10.6" fill="none" stroke="#2e2f8f" stroke-width="1.7"/>
<rect x="308.7" y="638.2" width="10.6" height="10.6" fill="none" stroke="#2e2f8f" stroke-width="1.7"/>
<path d="M51.5 644H314" stroke="#1a1a1a" stroke-width="1.2"/>
<polygon points="51.5,586.3 56.5,595.6 46.5,595.6" fill="none" stroke="#2e2f8f" stroke-width="1.4" stroke-linejoin="round"/>
<polygon points="66.08,587.97 71.08,597.27 61.08,597.27" fill="none" stroke="#2e2f8f" stroke-width="1.4" stroke-linejoin="round"/>
<polygon points="80.67,591.04 85.67,600.34 75.67,600.34" fill="none" stroke="#2e2f8f" stroke-width="1.4" stroke-linejoin="round"/>
<polygon points="95.25,595.23 100.25,604.53 90.25,604.53" fill="none" stroke="#2e2f8f" stroke-width="1.4" stroke-linejoin="round"/>
<polygon points="109.83,594.39 114.83,603.69 104.83,603.69" fill="none" stroke="#2e2f8f" stroke-width="1.4" stroke-linejoin="round"/>
<polygon points="139,613.65 144,622.95 134,622.95" fill="none" stroke="#2e2f8f" stroke-width="1.4" stroke-linejoin="round"/>
<polygon points="168.17,626.22 173.17,635.52 163.17,635.52" fill="none" stroke="#2e2f8f" stroke-width="1.4" stroke-linejoin="round"/>
<polygon points="197.33,631.8 202.33,641.1 192.33,641.1" fill="none" stroke="#2e2f8f" stroke-width="1.4" stroke-linejoin="round"/>
<polygon points="226.5,633.75 231.5,643.05 221.5,643.05" fill="none" stroke="#2e2f8f" stroke-width="1.4" stroke-linejoin="round"/>
<polygon points="255.67,633.75 260.67,643.05 250.67,643.05" fill="none" stroke="#2e2f8f" stroke-width="1.4" stroke-linejoin="round"/>
<polygon points="284.83,629.85 289.83,639.15 279.83,639.15" fill="none" stroke="#2e2f8f" stroke-width="1.4" stroke-linejoin="round"/>
<polygon points="314,629.85 319,639.15 309,639.15" fill="none" stroke="#2e2f8f" stroke-width="1.4" stroke-linejoin="round"/>
<polygon points="51.5,585.23 56.6,575.74 46.4,575.74" fill="none" stroke="#1a1a1a" stroke-width="1.4" stroke-linejoin="round"/>
<polygon points="66.08,584.95 71.18,575.46 60.98,575.46" fill="none" stroke="#1a1a1a" stroke-width="1.4" stroke-linejoin="round"/>
<polygon points="80.67,591.93 85.77,582.44 75.57,582.44" fill="none" stroke="#1a1a1a" stroke-width="1.4" stroke-linejoin="round"/>
<polygon points="95.25,605.33 100.35,595.84 90.15,595.84" fill="none" stroke="#1a1a1a" stroke-width="1.4" stroke-linejoin="round"/>
<polygon points="109.83,608.4 114.93,598.91 104.73,598.91" fill="none" stroke="#1a1a1a" stroke-width="1.4" stroke-linejoin="round"/>
<polygon points="139,638.27 144.1,628.78 133.9,628.78" fill="none" stroke="#1a1a1a" stroke-width="1.4" stroke-linejoin="round"/>
<polygon points="168.17,644.69 173.27,635.21 163.07,635.21" fill="none" stroke="#1a1a1a" stroke-width="1.4" stroke-linejoin="round"/>
<polygon points="197.33,632.13 202.43,622.64 192.23,622.64" fill="none" stroke="#1a1a1a" stroke-width="1.4" stroke-linejoin="round"/>
<polygon points="226.5,607 231.6,597.52 221.4,597.52" fill="none" stroke="#1a1a1a" stroke-width="1.4" stroke-linejoin="round"/>
<polygon points="255.67,584.11 260.77,574.63 250.57,574.63" fill="none" stroke="#1a1a1a" stroke-width="1.4" stroke-linejoin="round"/>
<polygon points="284.83,590.81 289.93,581.33 279.73,581.33" fill="none" stroke="#1a1a1a" stroke-width="1.4" stroke-linejoin="round"/>
<polygon points="314,602.82 319.1,593.33 308.9,593.33" fill="none" stroke="#1a1a1a" stroke-width="1.4" stroke-linejoin="round"/>
<path d="M128.3 476.4H147.3" stroke="#1a1a1a" stroke-width="1.4"/>
<circle cx="137.8" cy="476.4" r="3.4" fill="#e6423c" stroke="#1a1a1a" stroke-width="1.5"/>
<text x="148.6" y="480.24" text-anchor="start" font-size="11.5" font-weight="normal">Furfural</text>
<path d="M128.3 489.8H147.3" stroke="#2e2f8f" stroke-width="1.4"/>
<circle cx="137.8" cy="489.8" r="3.4" fill="none" stroke="#2e2f8f" stroke-width="1.5"/>
<text x="148.6" y="493.64" text-anchor="start" font-size="11.5" font-weight="normal">HBA</text>
<path d="M128.3 503.2H147.3" stroke="#2e2f8f" stroke-width="1.4"/>
<polygon points="137.8,499.9 141.4,506.6 134.2,506.6" fill="none" stroke="#2e2f8f" stroke-width="1.1" stroke-linejoin="round"/>
<text x="148.6" y="507.04" text-anchor="start" font-size="11.5" font-weight="normal">Syringaldehyde</text>
<path d="M232.2 476.4H251.2" stroke="#1a1a1a" stroke-width="1.4"/>
<rect x="238.8" y="473.1" width="5.8" height="6.6" fill="#e6423c" stroke="#1a1a1a" stroke-width="1.5"/>
<text x="252.5" y="480.24" text-anchor="start" font-size="11.5" font-weight="normal">HMF</text>
<path d="M232.2 489.8H251.2" stroke="#2e2f8f" stroke-width="1.4"/>
<rect x="238.8" y="486.5" width="5.8" height="6.6" fill="none" stroke="#2e2f8f" stroke-width="1.5"/>
<text x="252.5" y="493.64" text-anchor="start" font-size="11.5" font-weight="normal">Vanillin</text>
<path d="M232.2 503.2H251.2" stroke="#1a1a1a" stroke-width="1.4"/>
<polygon points="241.7,506.5 245.3,499.8 238.1,499.8" fill="none" stroke="#1a1a1a" stroke-width="1.1" stroke-linejoin="round"/>
<text x="252.5" y="507.04" text-anchor="start" font-size="11.5" font-weight="normal">Acetic acid</text>
<text x="16.4" y="692.2" text-anchor="start" font-size="16" font-weight="bold">d</text>
<path d="M48.3 698.7V863.4" stroke="#1a1a1a" stroke-width="1.1"/>
<g stroke="#1a1a1a" stroke-width="1.1" fill="none">
<path d="M311.2 698.7V863.4"/>
<path d="M48.3 863.4H311.2"/>
<path d="M45.3 863.4H48.3M45.3 859.28H48.3M45.3 855.16H48.3M45.3 851.05H48.3M45.3 846.93H48.3M45.3 842.81H48.3M45.3 838.69H48.3M45.3 834.58H48.3M45.3 830.46H48.3M45.3 826.34H48.3M45.3 822.23H48.3M45.3 818.11H48.3M45.3 813.99H48.3M45.3 809.87H48.3M45.3 805.75H48.3M45.3 801.64H48.3M45.3 797.52H48.3M45.3 793.4H48.3M45.3 789.28H48.3M45.3 785.17H48.3M45.3 781.05H48.3M45.3 776.93H48.3M45.3 772.82H48.3M45.3 768.7H48.3M45.3 764.58H48.3M45.3 760.46H48.3M45.3 756.35H48.3M45.3 752.23H48.3M45.3 748.11H48.3M45.3 743.99H48.3M45.3 739.88H48.3M45.3 735.76H48.3M45.3 731.64H48.3M45.3 727.52H48.3M45.3 723.4H48.3M45.3 719.29H48.3M45.3 715.17H48.3M45.3 711.05H48.3M45.3 706.94H48.3M45.3 702.82H48.3M45.3 698.7H48.3M311.2 863.4H314.2M311.2 857.91H314.2M311.2 852.42H314.2M311.2 846.93H314.2M311.2 841.44H314.2M311.2 835.95H314.2M311.2 830.46H314.2M311.2 824.97H314.2M311.2 819.48H314.2M311.2 813.99H314.2M311.2 808.5H314.2M311.2 803.01H314.2M311.2 797.52H314.2M311.2 792.03H314.2M311.2 786.54H314.2M311.2 781.05H314.2M311.2 775.56H314.2M311.2 770.07H314.2M311.2 764.58H314.2M311.2 759.09H314.2M311.2 753.6H314.2M311.2 748.11H314.2M311.2 742.62H314.2M311.2 737.13H314.2M311.2 731.64H314.2M311.2 726.15H314.2M311.2 720.66H314.2M311.2 715.17H314.2M311.2 709.68H314.2M311.2 704.19H314.2M311.2 698.7H314.2M48.3 863.4V866.4M54.14 863.4V866.4M59.98 863.4V866.4M65.83 863.4V866.4M71.67 863.4V866.4M77.51 863.4V866.4M83.35 863.4V866.4M89.2 863.4V866.4M95.04 863.4V866.4M100.88 863.4V866.4M106.72 863.4V866.4M112.56 863.4V866.4M118.41 863.4V866.4M124.25 863.4V866.4M130.09 863.4V866.4M135.93 863.4V866.4M141.78 863.4V866.4M147.62 863.4V866.4M153.46 863.4V866.4M159.3 863.4V866.4M165.14 863.4V866.4M170.99 863.4V866.4M176.83 863.4V866.4M182.67 863.4V866.4M188.51 863.4V866.4M194.36 863.4V866.4M200.2 863.4V866.4M206.04 863.4V866.4M211.88 863.4V866.4M217.72 863.4V866.4M223.57 863.4V866.4M229.41 863.4V866.4M235.25 863.4V866.4M241.09 863.4V866.4M246.94 863.4V866.4M252.78 863.4V866.4M258.62 863.4V866.4M264.46 863.4V866.4M270.3 863.4V866.4M276.15 863.4V866.4M281.99 863.4V866.4M287.83 863.4V866.4M293.67 863.4V866.4M299.52 863.4V866.4M305.36 863.4V866.4M311.2 863.4V866.4"/>
</g>
<g fill="#1a1a1a">
<text x="39.1" y="867.52" text-anchor="end" font-size="11.5" font-weight="normal">0</text>
<text x="39.1" y="846.93" text-anchor="end" font-size="11.5" font-weight="normal">10</text>
<text x="39.1" y="826.34" text-anchor="end" font-size="11.5" font-weight="normal">20</text>
<text x="39.1" y="805.75" text-anchor="end" font-size="11.5" font-weight="normal">30</text>
<text x="39.1" y="785.17" text-anchor="end" font-size="11.5" font-weight="normal">40</text>
<text x="39.1" y="764.58" text-anchor="end" font-size="11.5" font-weight="normal">50</text>
<text x="39.1" y="743.99" text-anchor="end" font-size="11.5" font-weight="normal">60</text>
<text x="39.1" y="723.4" text-anchor="end" font-size="11.5" font-weight="normal">70</text>
<text x="39.1" y="702.82" text-anchor="end" font-size="11.5" font-weight="normal">80</text>
<text x="321.2" y="867.52" text-anchor="start" font-size="11.5" font-weight="normal">0</text>
<text x="321.2" y="840.07" text-anchor="start" font-size="11.5" font-weight="normal">5</text>
<text x="321.2" y="812.62" text-anchor="start" font-size="11.5" font-weight="normal">10</text>
<text x="321.2" y="785.17" text-anchor="start" font-size="11.5" font-weight="normal">15</text>
<text x="321.2" y="757.72" text-anchor="start" font-size="11.5" font-weight="normal">20</text>
<text x="321.2" y="730.27" text-anchor="start" font-size="11.5" font-weight="normal">25</text>
<text x="321.2" y="702.82" text-anchor="start" font-size="11.5" font-weight="normal">30</text>
<text x="48.3" y="880.82" text-anchor="middle" font-size="11.5" font-weight="normal">0</text>
<text x="77.51" y="880.82" text-anchor="middle" font-size="11.5" font-weight="normal">8</text>
<text x="106.72" y="880.82" text-anchor="middle" font-size="11.5" font-weight="normal">16</text>
<text x="135.93" y="880.82" text-anchor="middle" font-size="11.5" font-weight="normal">24</text>
<text x="165.14" y="880.82" text-anchor="middle" font-size="11.5" font-weight="normal">32</text>
<text x="194.36" y="880.82" text-anchor="middle" font-size="11.5" font-weight="normal">40</text>
<text x="223.57" y="880.82" text-anchor="middle" font-size="11.5" font-weight="normal">48</text>
<text x="252.78" y="880.82" text-anchor="middle" font-size="11.5" font-weight="normal">56</text>
<text x="281.99" y="880.82" text-anchor="middle" font-size="11.5" font-weight="normal">64</text>
<text x="311.2" y="880.82" text-anchor="middle" font-size="11.5" font-weight="normal">72</text>
</g>
<path d="M74.2 698.8H93.2" stroke="#1a1a1a" stroke-width="1.4"/>
<circle cx="83.7" cy="698.8" r="3.4" fill="none" stroke="#1a1a1a" stroke-width="1.5"/>
<text x="94.5" y="702.64" text-anchor="start" font-size="11.5" font-weight="normal">Glucose</text>
<path d="M151.2 698.8H170.2" stroke="#1a1a1a" stroke-width="1.4"/>
<polygon points="160.7,695.5 164.3,702.2 157.1,702.2" fill="#e6423c" stroke="#1a1a1a" stroke-width="1.1" stroke-linejoin="round"/>
<text x="171.5" y="702.64" text-anchor="start" font-size="11.5" font-weight="normal">Glutamic acid</text>
<path d="M254.7 698.8H273.7" stroke="#1a1a1a" stroke-width="1.4"/>
<rect x="261.3" y="695.5" width="5.8" height="6.6" fill="none" stroke="#1a1a1a" stroke-width="1.5"/>
<text x="276" y="702.64" text-anchor="start" font-size="11.5" font-weight="normal">OD</text>
<text transform="translate(11.2 774.6) rotate(-90)" text-anchor="middle" font-size="11.5">Glucose (g/L)</text>
<text transform="translate(353.3 783) rotate(-90)" text-anchor="middle" font-size="11.5">Glutamic acid (g/L) and OD<tspan font-size="7.6" dy="2.6">600</tspan></text>
<text x="181.2" y="898.3" text-anchor="middle" font-size="11.5" font-weight="normal">Time (h)</text>
<polyline points="48.3,737.4 62.91,743.37 77.51,746.05 92.12,767.46 106.72,792.58 135.93,817.9 165.14,847.75 194.36,862.16 223.57,862.37 252.78,861.96 281.99,861.96 311.2,861.96" fill="none" stroke="#111" stroke-width="1.15"/>
<polyline points="48.3,859.01 62.91,854.07 77.51,844.4 92.12,831.01 106.72,821.68 135.93,804.66 165.14,778.31 194.36,761.29 223.57,759.09 252.78,761.29 281.99,764.31 311.2,775.01" fill="none" stroke="#111" stroke-width="1.15"/>
<polyline points="48.3,861.75 62.91,861.75 77.51,861.75 92.12,861.75 106.72,861.75 135.93,861.75 165.14,861.75 194.36,861.75 223.57,861.75 252.78,861.48 281.99,861.48 311.2,861.48" fill="none" stroke="#111" stroke-width="1.15"/>
<path d="M106.72 818.93V824.42 M104.52 818.93H108.92 M104.52 824.42H108.92" stroke="#1a1a1a" stroke-width="0.9" fill="none"/>
<path d="M135.93 802.46V806.85 M133.73 802.46H138.13 M133.73 806.85H138.13" stroke="#1a1a1a" stroke-width="0.9" fill="none"/>
<path d="M223.57 754.7V763.48 M221.37 754.7H225.77 M221.37 763.48H225.77" stroke="#1a1a1a" stroke-width="0.9" fill="none"/>
<path d="M252.78 759.09V763.48 M250.58 759.09H254.98 M250.58 763.48H254.98" stroke="#1a1a1a" stroke-width="0.9" fill="none"/>
<path d="M281.99 762.11V766.5 M279.79 762.11H284.19 M279.79 766.5H284.19" stroke="#1a1a1a" stroke-width="0.9" fill="none"/>
<circle cx="48.3" cy="737.4" r="4.4" fill="none" stroke="#1a1a1a" stroke-width="1.5"/>
<circle cx="62.91" cy="743.37" r="4.4" fill="none" stroke="#1a1a1a" stroke-width="1.5"/>
<circle cx="77.51" cy="746.05" r="4.4" fill="none" stroke="#1a1a1a" stroke-width="1.5"/>
<circle cx="92.12" cy="767.46" r="4.4" fill="none" stroke="#1a1a1a" stroke-width="1.5"/>
<circle cx="106.72" cy="792.58" r="4.4" fill="none" stroke="#1a1a1a" stroke-width="1.5"/>
<circle cx="135.93" cy="817.9" r="4.4" fill="none" stroke="#1a1a1a" stroke-width="1.5"/>
<circle cx="165.14" cy="847.75" r="4.4" fill="none" stroke="#1a1a1a" stroke-width="1.5"/>
<circle cx="194.36" cy="862.16" r="4.4" fill="none" stroke="#1a1a1a" stroke-width="1.5"/>
<circle cx="223.57" cy="862.37" r="4.4" fill="none" stroke="#1a1a1a" stroke-width="1.5"/>
<circle cx="252.78" cy="861.96" r="4.4" fill="none" stroke="#1a1a1a" stroke-width="1.5"/>
<circle cx="281.99" cy="861.96" r="4.4" fill="none" stroke="#1a1a1a" stroke-width="1.5"/>
<circle cx="311.2" cy="861.96" r="4.4" fill="none" stroke="#1a1a1a" stroke-width="1.5"/>
<rect x="43.8" y="854.51" width="9" height="9" fill="none" stroke="#1a1a1a" stroke-width="1.5"/>
<rect x="58.41" y="849.57" width="9" height="9" fill="none" stroke="#1a1a1a" stroke-width="1.5"/>
<rect x="73.01" y="839.9" width="9" height="9" fill="none" stroke="#1a1a1a" stroke-width="1.5"/>
<rect x="87.62" y="826.51" width="9" height="9" fill="none" stroke="#1a1a1a" stroke-width="1.5"/>
<rect x="102.22" y="817.18" width="9" height="9" fill="none" stroke="#1a1a1a" stroke-width="1.5"/>
<rect x="131.43" y="800.16" width="9" height="9" fill="none" stroke="#1a1a1a" stroke-width="1.5"/>
<rect x="160.64" y="773.81" width="9" height="9" fill="none" stroke="#1a1a1a" stroke-width="1.5"/>
<rect x="189.86" y="756.79" width="9" height="9" fill="none" stroke="#1a1a1a" stroke-width="1.5"/>
<rect x="219.07" y="754.59" width="9" height="9" fill="none" stroke="#1a1a1a" stroke-width="1.5"/>
<rect x="248.28" y="756.79" width="9" height="9" fill="none" stroke="#1a1a1a" stroke-width="1.5"/>
<rect x="277.49" y="759.81" width="9" height="9" fill="none" stroke="#1a1a1a" stroke-width="1.5"/>
<rect x="306.7" y="770.51" width="9" height="9" fill="none" stroke="#1a1a1a" stroke-width="1.5"/>
<polygon points="48.3,857.05 53,865.79 43.6,865.79" fill="#e6423c" stroke="#1a1a1a" stroke-width="1.4" stroke-linejoin="round"/>
<polygon points="62.91,857.05 67.61,865.79 58.21,865.79" fill="#e6423c" stroke="#1a1a1a" stroke-width="1.4" stroke-linejoin="round"/>
<polygon points="77.51,857.05 82.21,865.79 72.81,865.79" fill="#e6423c" stroke="#1a1a1a" stroke-width="1.4" stroke-linejoin="round"/>
<polygon points="92.12,857.05 96.82,865.79 87.42,865.79" fill="#e6423c" stroke="#1a1a1a" stroke-width="1.4" stroke-linejoin="round"/>
<polygon points="106.72,857.05 111.42,865.79 102.02,865.79" fill="#e6423c" stroke="#1a1a1a" stroke-width="1.4" stroke-linejoin="round"/>
<polygon points="135.93,857.05 140.63,865.79 131.23,865.79" fill="#e6423c" stroke="#1a1a1a" stroke-width="1.4" stroke-linejoin="round"/>
<polygon points="165.14,857.05 169.84,865.79 160.44,865.79" fill="#e6423c" stroke="#1a1a1a" stroke-width="1.4" stroke-linejoin="round"/>
<polygon points="194.36,857.05 199.06,865.79 189.66,865.79" fill="#e6423c" stroke="#1a1a1a" stroke-width="1.4" stroke-linejoin="round"/>
<polygon points="223.57,857.05 228.27,865.79 218.87,865.79" fill="#e6423c" stroke="#1a1a1a" stroke-width="1.4" stroke-linejoin="round"/>
<polygon points="252.78,856.78 257.48,865.52 248.08,865.52" fill="#e6423c" stroke="#1a1a1a" stroke-width="1.4" stroke-linejoin="round"/>
<polygon points="281.99,856.78 286.69,865.52 277.29,865.52" fill="#e6423c" stroke="#1a1a1a" stroke-width="1.4" stroke-linejoin="round"/>
<polygon points="311.2,856.78 315.9,865.52 306.5,865.52" fill="#e6423c" stroke="#1a1a1a" stroke-width="1.4" stroke-linejoin="round"/>
</svg></body></html>
